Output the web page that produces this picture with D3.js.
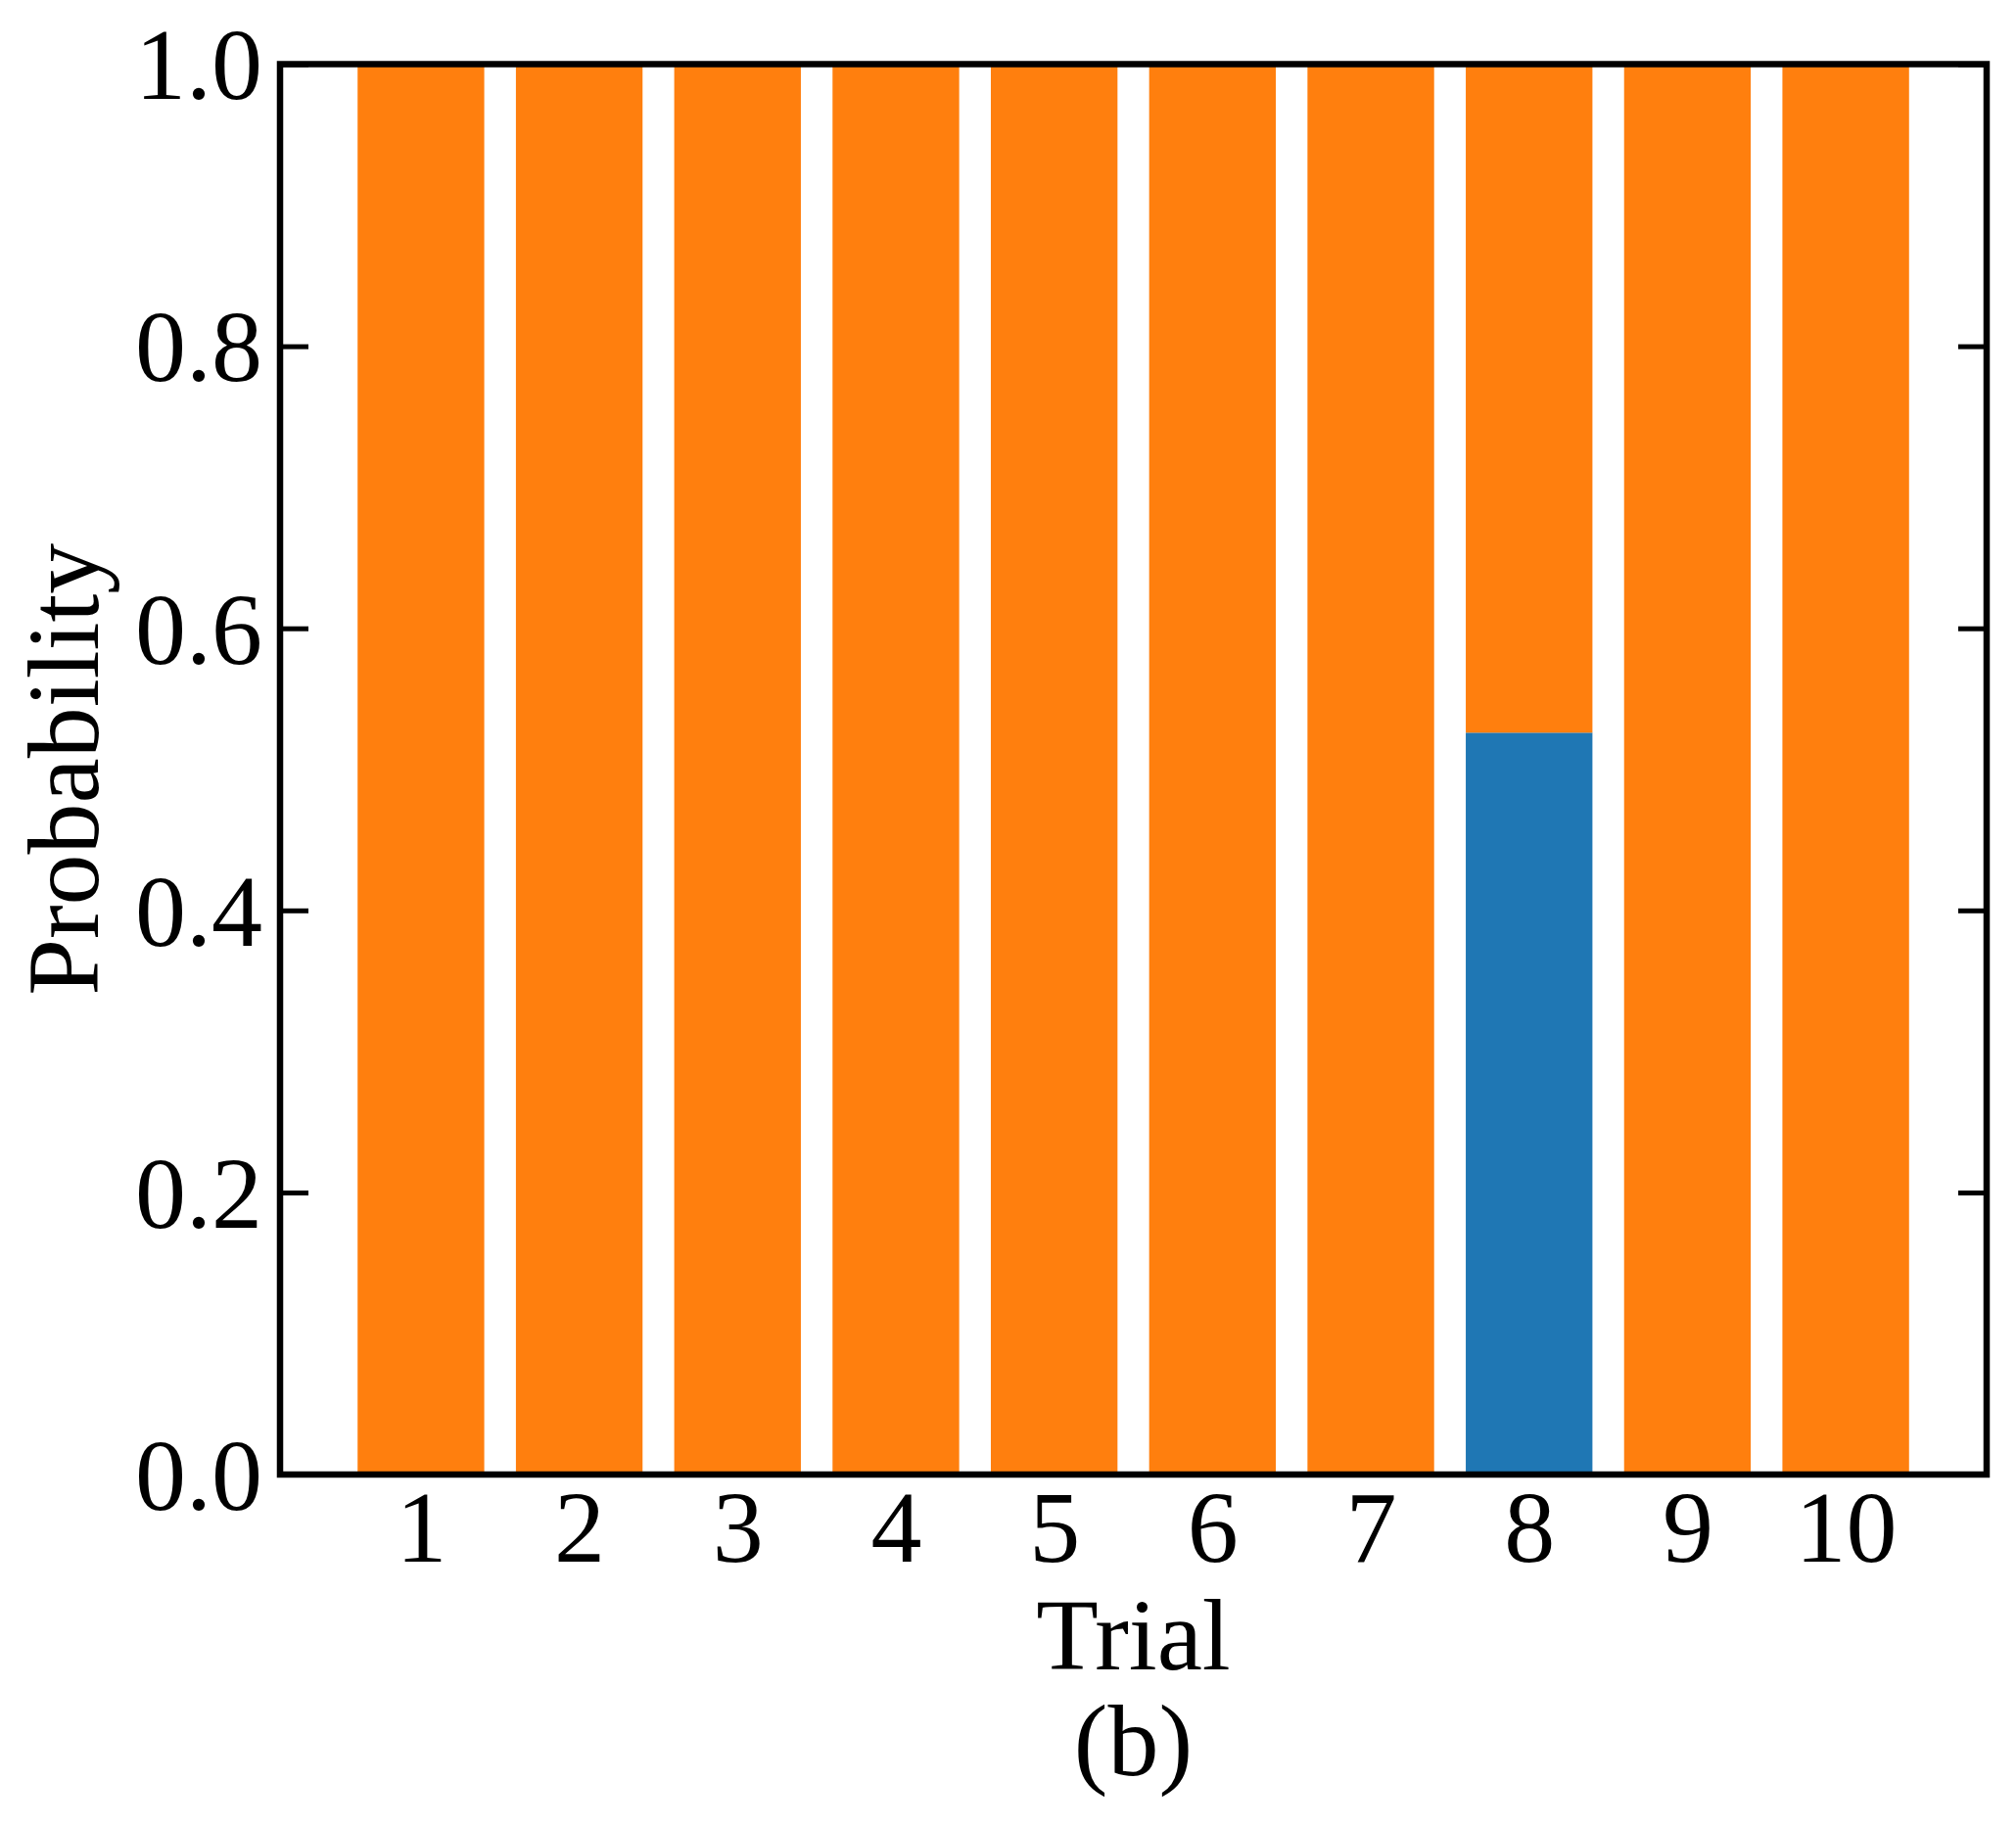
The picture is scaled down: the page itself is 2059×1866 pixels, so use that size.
<!DOCTYPE html>
<html>
<head>
<meta charset="utf-8">
<script src="https://cdn.jsdelivr.net/npm/d3@7"></script>
<style>
  html, body { margin: 0; padding: 0; background: #fff; }
  svg { display: block; }
  text { font-family: "Liberation Serif", "Times New Roman", serif; fill: #000; }
</style>
</head>
<body>
<script>
const trials = [1, 2, 3, 4, 5, 6, 7, 8, 9, 10];
const blueValues = [0, 0, 0, 0, 0, 0, 0, 0.526, 0, 0];
const orangeValues = [1, 1, 1, 1, 1, 1, 1, 0.474, 1, 1];
const yTicks = [0.0, 0.2, 0.4, 0.6, 0.8, 1.0];
const seriesKeys = ["blue", "orange"];
const seriesColors = ["#1f77b4", "#ff7f0e"];
const xLabel = "Trial";
const subLabel = "(b)";
const yLabel = "Probability";

const W = 2059, H = 1866;
const FS = 104;
const m = { left: 286, right: 2029, top: 65.5, bottom: 1506 };

const rows = trials.map((t, i) => ({ trial: t, blue: blueValues[i], orange: orangeValues[i] }));

const svg = d3.select("body").append("svg").attr("width", W).attr("height", H);

const x = d3.scaleLinear().domain([0.11, 10.89]).range([m.left, m.right]);
const y = d3.scaleLinear().domain([0, 1]).range([m.bottom, m.top]);
const barW = x(0.8) - x(0);

const stack = d3.stack().keys(seriesKeys)(rows);
const color = d3.scaleOrdinal().domain(seriesKeys).range(seriesColors);

svg.append("g").selectAll("g").data(stack).join("g")
  .attr("fill", d => color(d.key))
  .selectAll("rect").data(d => d).join("rect")
  .attr("x", d => x(d.data.trial) - barW / 2)
  .attr("width", barW)
  .attr("y", d => y(d[1]))
  .attr("height", d => y(d[0]) - y(d[1]));

// Left axis (ticks inward)
const yAxisL = d3.axisLeft(y).tickValues(yTicks).tickFormat(d3.format(".1f")).tickSize(-29).tickPadding(18);
const gl = svg.append("g").attr("transform", `translate(${m.left},0)`).call(yAxisL);
gl.select(".domain").remove();
gl.selectAll(".tick line").attr("stroke", "#000").attr("stroke-width", 5);
gl.selectAll(".tick text").attr("font-size", FS).attr("dy", "0.34em")
  .style("font-family", "'Liberation Serif', serif");

// Right axis (ticks inward, no labels)
const yAxisR = d3.axisRight(y).tickValues(yTicks).tickFormat("").tickSize(-29);
const gr = svg.append("g").attr("transform", `translate(${m.right},0)`).call(yAxisR);
gr.select(".domain").remove();
gr.selectAll(".tick line").attr("stroke", "#000").attr("stroke-width", 5);

// Bottom axis (labels only)
const xAxis = d3.axisBottom(x).tickValues(trials).tickFormat(d3.format("d")).tickSize(0).tickPadding(20);
const gb = svg.append("g").attr("transform", `translate(0,${m.bottom})`).call(xAxis);
gb.select(".domain").remove();
gb.selectAll(".tick text").attr("font-size", FS).attr("dy", null).attr("y", 89)
  .style("font-family", "'Liberation Serif', serif");

// Frame
svg.append("rect")
  .attr("x", m.left).attr("y", m.top)
  .attr("width", m.right - m.left).attr("height", m.bottom - m.top)
  .attr("fill", "none").attr("stroke", "#000").attr("stroke-width", 6.5);

// Labels
const cx = (m.left + m.right) / 2;
svg.append("text").attr("x", cx).attr("y", 1705).attr("text-anchor", "middle")
  .attr("font-size", FS).text(xLabel);
svg.append("text").attr("x", cx).attr("y", 1813).attr("text-anchor", "middle")
  .attr("font-size", FS).text(subLabel);
svg.append("text")
  .attr("transform", `translate(100,${(m.top + m.bottom) / 2}) rotate(-90)`)
  .attr("text-anchor", "middle").attr("font-size", FS).text(yLabel);
</script>
</body>
</html>
